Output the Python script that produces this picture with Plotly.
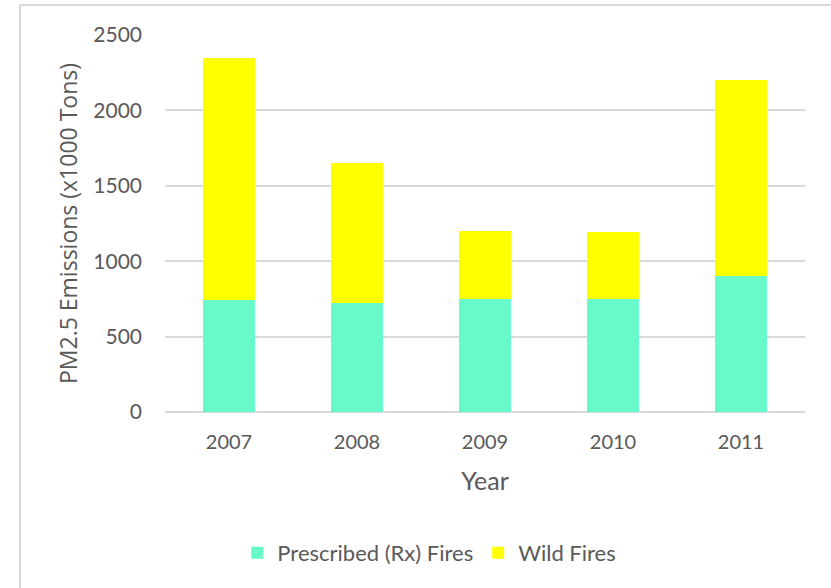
import plotly.graph_objects as go

years = ["2007", "2008", "2009", "2010", "2011"]
prescribed = [745, 723, 750, 750, 900]
wild = [1605, 927, 450, 445, 1300]
y_ticks = [0, 500, 1000, 1500, 2000, 2500]

text_gray = "#595959"
grid_gray = "#d9d9d9"

fig = go.Figure()

fig.add_trace(
    go.Bar(
        x=years,
        y=prescribed,
        name="Prescribed (Rx) Fires",
        marker=dict(color="#68FACA", line=dict(width=0)),
    )
)

fig.add_trace(
    go.Bar(
        x=years,
        y=wild,
        name="Wild Fires",
        marker=dict(color="#FFFF00", line=dict(width=0)),
    )
)

fig.update_layout(
    width=831,
    height=588,
    barmode="stack",
    bargap=0.6,
    paper_bgcolor="white",
    plot_bgcolor="white",
    font=dict(family="Lato", color=text_gray, size=20),
    margin=dict(l=165, r=26, t=35, b=176),
    legend=dict(
        orientation="h",
        x=0.413,
        xanchor="center",
        y=-0.374,
        yanchor="middle",
        font=dict(size=22, color=text_gray),
        itemwidth=30,
        traceorder="normal",
    ),
    xaxis=dict(
        showgrid=False,
        showline=False,
        ticks="",
        ticklabelstandoff=16,
        tickfont=dict(size=20),
        title=dict(text="Year", standoff=20, font=dict(size=25, color=text_gray)),
    ),
    yaxis=dict(
        range=[0, 2500],
        tickvals=y_ticks,
        showgrid=True,
        gridcolor=grid_gray,
        gridwidth=1.5,
        zeroline=True,
        zerolinecolor=grid_gray,
        zerolinewidth=1.5,
        showline=False,
        ticks="",
        ticklabelstandoff=22,
        tickfont=dict(size=21),
        title=dict(
            text="PM2.5 Emissions (x1000 Tons)",
            standoff=9,
            font=dict(family="Open Sans", size=23, color=text_gray),
        ),
    ),
    shapes=[
        # light outer chart border, open to the right and bottom
        dict(
            type="rect",
            xref="paper",
            yref="paper",
            x0=-0.2266,
            x1=2,
            y0=-1,
            y1=1.0796,
            line=dict(color=grid_gray, width=2),
            fillcolor="rgba(0,0,0,0)",
            layer="below",
        )
    ],
)

# drop the default page margin so the figure sits at the window's corner
fig.write_html(
    "out.html",
    config={"displayModeBar": False},
    post_script="document.body.style.margin='0';",
)
